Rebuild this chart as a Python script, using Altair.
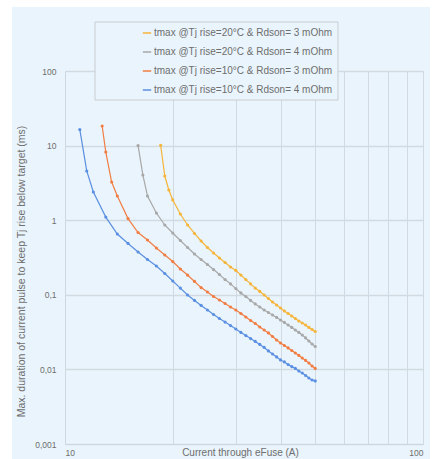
import altair as alt
import pandas as pd

# ---- data ----
names = [
    "tmax @Tj rise=20°C & Rdson= 3 mOhm",
    "tmax @Tj rise=20°C & Rdson= 4 mOhm",
    "tmax @Tj rise=10°C & Rdson= 3 mOhm",
    "tmax @Tj rise=10°C & Rdson= 4 mOhm",
]
colors = ["#f6b53a", "#a8a8a8", "#f27d43", "#5b8fe2"]

cur_y20_3 = [18.5, 19, 19.5, 20, 21, 22, 23, 24, 25, 26, 27, 28, 29, 30, 31, 32, 33, 34,
             35, 36, 37, 38, 39, 40, 41, 42, 43, 44, 45, 46, 47, 48, 49, 50]
t_y20_3 = [10.1, 3.91, 2.54, 1.87, 1.21, 0.863, 0.664, 0.526, 0.431, 0.363, 0.311, 0.271,
           0.236, 0.212, 0.184, 0.160, 0.140, 0.123, 0.111, 0.0993, 0.0891, 0.0800, 0.0729,
           0.0665, 0.0607, 0.0561, 0.0520, 0.0481, 0.0446, 0.0419, 0.0394, 0.0365, 0.0343,
           0.0322]

cur_g20_4 = [16, 16.5, 17, 18, 19, 20, 21, 22, 23, 24, 25, 26, 27, 28, 29, 30, 31, 32, 33,
             34, 35, 36, 37, 38, 39, 40, 41, 42, 43, 44, 45, 46, 47, 48, 49, 50]
t_g20_4 = [10.0, 4.04, 2.11, 1.25, 0.863, 0.673, 0.535, 0.431, 0.352, 0.297, 0.255, 0.218,
           0.187, 0.160, 0.140, 0.121, 0.106, 0.0948, 0.0840, 0.0754, 0.0686, 0.0625, 0.0579,
           0.0536, 0.0497, 0.0459, 0.0426, 0.0394, 0.0365, 0.0337, 0.0313, 0.0289, 0.0264,
           0.0240, 0.0219, 0.0203]

cur_o10_3 = [12.7, 13, 13.5, 14, 15, 16, 17, 18, 19, 20, 21, 22, 23, 24, 25, 26, 27, 28, 29,
             30, 31, 32, 33, 34, 35, 36, 37, 38, 39, 40, 41, 42, 43, 44, 45, 46, 47, 48, 49, 50]
t_o10_3 = [18.3, 8.2, 3.25, 2.11, 1.05, 0.684, 0.543, 0.424, 0.342, 0.279, 0.222, 0.184,
           0.151, 0.125, 0.109, 0.0948, 0.0852, 0.0765, 0.0686, 0.0625, 0.0561, 0.0504,
           0.0452, 0.0412, 0.0370, 0.0337, 0.0308, 0.0276, 0.0248, 0.0226, 0.0209, 0.0194,
           0.0179, 0.0166, 0.0154, 0.0142, 0.0132, 0.0122, 0.0111, 0.0103]

cur_b10_4 = [11, 11.5, 12, 13, 14, 15, 16, 17, 18, 19, 20, 21, 22, 23, 24, 25, 26, 27, 28,
             29, 30, 31, 32, 33, 34, 35, 36, 37, 38, 39, 40, 41, 42, 43, 44, 45, 46, 47, 48,
             49, 50]
t_b10_4 = [16.4, 4.57, 2.39, 1.10, 0.653, 0.488, 0.375, 0.297, 0.243, 0.193, 0.153, 0.123,
           0.0993, 0.0840, 0.0720, 0.0625, 0.0545, 0.0481, 0.0431, 0.0387, 0.0348, 0.0313,
           0.0284, 0.0259, 0.0237, 0.0216, 0.0197, 0.0177, 0.0161, 0.0147, 0.0134, 0.0126,
           0.0116, 0.0109, 0.0103, 0.00953, 0.00895, 0.00828, 0.00767, 0.00721, 0.00700]

x_ticks = [10, 20, 30, 40, 50, 60, 70, 80, 90, 100]
y_ticks = [0.001, 0.01, 0.1, 1, 10, 100]

frames = []
for name, cur, t in [(names[0], cur_y20_3, t_y20_3), (names[1], cur_g20_4, t_g20_4),
                     (names[2], cur_o10_3, t_o10_3), (names[3], cur_b10_4, t_b10_4)]:
    frames.append(pd.DataFrame({"I": cur, "t": t, "series": name}))
df = pd.concat(frames, ignore_index=True)

PANEL = "#e9f4fc"
TXT = "#6e6e6e"
FONT = "Liberation Sans"

one = pd.DataFrame({"a": [0]})

# white margins around the light-blue panel
white_left = alt.Chart(one).mark_rect(fill="white").encode(
    x=alt.value(-65), x2=alt.value(-53), y=alt.value(-71), y2=alt.value(388))
white_top = alt.Chart(one).mark_rect(fill="white").encode(
    x=alt.value(-65), x2=alt.value(372), y=alt.value(-71), y2=alt.value(-64))
white_right = alt.Chart(one).mark_rect(fill="white").encode(
    x=alt.value(365), x2=alt.value(372), y=alt.value(-71), y2=alt.value(388))

legend_box = alt.Chart(one).mark_rect(fill=PANEL, stroke="#c9cdd1", strokeWidth=1).encode(
    x=alt.value(30), x2=alt.value(273), y=alt.value(-49), y2=alt.value(29))

lines = alt.Chart(df).mark_line(
    strokeWidth=1.2,
    point=alt.OverlayMarkDef(size=10, filled=True),
).encode(
    x=alt.X("I:Q",
            scale=alt.Scale(type="log", domain=[10, 100]),
            axis=alt.Axis(values=x_ticks,
                          labelExpr="(datum.value == 10 || datum.value == 100) ? datum.label : ''",
                          title="Current through eFuse (A)",
                          titleX=175, titleY=8, titleBaseline="middle",
                          titleFontWeight="normal", titleFontSize=10, titleColor=TXT,
                          titleFont=FONT,
                          labelFontSize=8.5, labelColor=TXT, labelFont=FONT, labelPadding=4,
                          ticks=False, domainColor="#cfd6dd",
                          gridColor="#d2d9e0", gridWidth=1)),
    y=alt.Y("t:Q",
            scale=alt.Scale(type="log", domain=[0.001, 100]),
            axis=alt.Axis(values=y_ticks,
                          labelExpr="replace(toString(datum.value), '.', ',')",
                          title="Max. duration of current pulse to keep Tj rise below target (ms)",
                          titleX=-39, titleY=200, titleFontWeight="normal", titleFontSize=10.5,
                          titleColor=TXT, titleFont=FONT,
                          labelFontSize=8.5, labelColor=TXT, labelFont=FONT, labelPadding=9,
                          ticks=False, domainColor="#cfd6dd",
                          gridColor="#d2d9e0", gridWidth=1.6)),
    color=alt.Color("series:N",
                    scale=alt.Scale(domain=names, range=colors),
                    legend=alt.Legend(orient="none", legendX=77, legendY=-43, title=None,
                                      padding=0, rowPadding=9,
                                      symbolType="stroke", symbolSize=70,
                                      symbolStrokeWidth=1.5,
                                      labelFontSize=10, labelColor=TXT, labelFont=FONT,
                                      labelOffset=2, labelLimit=300)),
)

chart = alt.layer(white_left, white_top, white_right, legend_box, lines).properties(
    width=358, height=373,
    padding={"left": 65, "top": 71, "right": 14, "bottom": 15},
    autosize=alt.AutoSizeParams(type="none"),
    background=PANEL,
).configure_view(stroke=None)

chart.save("out.html", embed_options={"renderer": "svg", "actions": False})
